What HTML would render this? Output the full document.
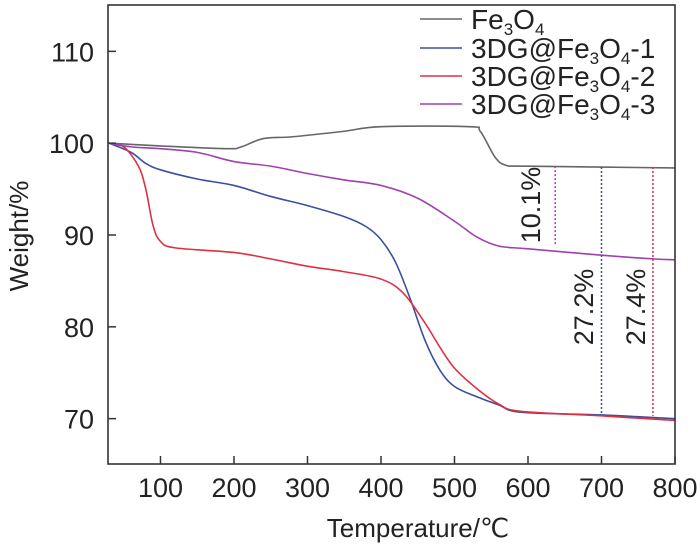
<!DOCTYPE html>
<html><head><meta charset="utf-8"><style>
html,body{margin:0;padding:0;background:#fff;}
svg{display:block;font-family:"Liberation Sans",sans-serif;}
</style></head><body>
<svg id="chart" width="700" height="549"></svg>
<script>
const xTicks=[100,200,300,400,500,600,700,800];
const yTicks=[70,80,90,100,110];
const feT=[30,100,190,210,240,280,350,400,520,535,555,570,600,800];
const feW=[100,99.7,99.4,99.6,100.5,100.7,101.3,101.8,101.8,101.3,98.5,97.6,97.5,97.3];
const s1T=[30,60,80,100,150,200,250,300,350,380,400,420,440,460,480,500,530,560,590,700,800];
const s1W=[100,99.0,97.8,97.1,96.1,95.4,94.2,93.2,92.0,90.9,89.5,87,83,78.5,75.3,73.5,72.4,71.5,70.7,70.4,70.0];
const s2T=[30,50,70,80,90,100,120,200,250,300,350,400,430,460,480,500,530,560,590,700,800];
const s2W=[100,99.6,97.5,95,91,89.3,88.6,88.1,87.4,86.6,86.0,85.2,83.7,80.4,77.8,75.5,73.3,71.6,70.8,70.3,69.8];
const s3T=[30,60,100,150,200,250,300,350,400,450,500,530,560,600,700,770,800];
const s3W=[100,99.6,99.4,99.0,98.0,97.5,96.7,96.0,95.4,94.0,91.5,89.8,88.8,88.5,87.8,87.4,87.3];
const markT=[637,700,770];
const markTop=[97.5,97.4,97.4];
const markBot=[88.9,70.5,70.3];
const markLabels=["10.1%","27.2%","27.4%"];
const legendLabels=[["Fe","3","O","4",""],["3DG@Fe","3","O","4","-1"],["3DG@Fe","3","O","4","-2"],["3DG@Fe","3","O","4","-3"]];
const colors=["#666666","#3a4fa0","#e03040","#a040b0"];

const NS="http://www.w3.org/2000/svg";
const svg=document.getElementById('chart');
const L=108,R=675,T=5,B=464,xMin=28.6,xMax=800,yMin=65.06,yMax=115.05;
const X=v=>L+(v-xMin)/(xMax-xMin)*(R-L);
const Y=v=>B-(v-yMin)/(yMax-yMin)*(B-T);
function el(tag,attrs,parent){const e=document.createElementNS(NS,tag);for(const k in attrs)e.setAttribute(k,attrs[k]);(parent||svg).appendChild(e);return e;}
function smooth(ts,ws){const p=ts.map((t,i)=>[X(t),Y(ws[i])]);let d="M"+p[0][0]+","+p[0][1];
for(let i=0;i<p.length-1;i++){const p0=p[i-1]||p[i],p1=p[i],p2=p[i+1],p3=p[i+2]||p2;
const c1=[p1[0]+(p2[0]-p0[0])/6,p1[1]+(p2[1]-p0[1])/6],c2=[p2[0]-(p3[0]-p1[0])/6,p2[1]-(p3[1]-p1[1])/6];
d+=` C${c1[0]},${c1[1]} ${c2[0]},${c2[1]} ${p2[0]},${p2[1]}`;}return d;}

const series=[[feT,feW],[s1T,s1W],[s2T,s2W],[s3T,s3W]];
const snames=["fe3o4-curve","3dg-fe3o4-1-curve","3dg-fe3o4-2-curve","3dg-fe3o4-3-curve"];
series.forEach((s,i)=>{const p=el('path',{d:smooth(s[0],s[1]),fill:'none',stroke:colors[i],'stroke-width':1.6});

});

const mcol=[colors[3],colors[1],colors[2]];
markT.forEach((t,i)=>{const l=el('line',{x1:X(t),x2:X(t),y1:Y(markTop[i]),y2:Y(markBot[i]),stroke:mcol[i],'stroke-width':1.5,'stroke-dasharray':'2,2'});

});
const lblPos=[[540,205],[593,307],[645,307]];
markLabels.forEach((s,i)=>{const t=el('text',{x:lblPos[i][0],y:lblPos[i][1],'font-size':27,fill:'#222','text-anchor':'middle',transform:`rotate(-90 ${lblPos[i][0]} ${lblPos[i][1]})`});
t.textContent=s;

});

const f=el('rect',{x:L,y:T,width:R-L,height:B-T,fill:'none',stroke:'#333','stroke-width':1.6});


xTicks.forEach(v=>{el('line',{x1:X(v),x2:X(v),y1:B,y2:B-8,stroke:'#333','stroke-width':1.5});
const t=el('text',{x:X(v),y:B+33,'font-size':27,fill:'#222','text-anchor':'middle'});t.textContent=v;

});
yTicks.forEach(v=>{el('line',{x1:L,x2:L+8,y1:Y(v),y2:Y(v),stroke:'#333','stroke-width':1.5});
const t=el('text',{x:L-14,y:Y(v)+10,'font-size':27,fill:'#222','text-anchor':'end'});t.textContent=v;

});
const xt=el('text',{x:418,y:537,'font-size':26,fill:'#222','text-anchor':'middle'});xt.textContent="Temperature/℃";


const yt=el('text',{x:28,y:236,'font-size':26,fill:'#222','text-anchor':'middle',transform:'rotate(-90 28 236)'});yt.textContent="Weight/%";



const rows=[19,48,76,104];
legendLabels.forEach((lab,i)=>{const g=el('g',{});


el('line',{x1:420,x2:462,y1:rows[i],y2:rows[i],stroke:colors[i],'stroke-width':1.6},g);
const t=el('text',{x:471,y:rows[i]+10,'font-size':28,fill:'#222'},g);
lab.forEach((s,j)=>{if(!s)return;const ts=el('tspan',{},t);
if(j===1||j===3){ts.setAttribute('font-size','17');ts.setAttribute('dy','6');}
else if(j===2||j===4){ts.setAttribute('dy','-6');}
ts.textContent=s;});});
</script>
</body></html>
